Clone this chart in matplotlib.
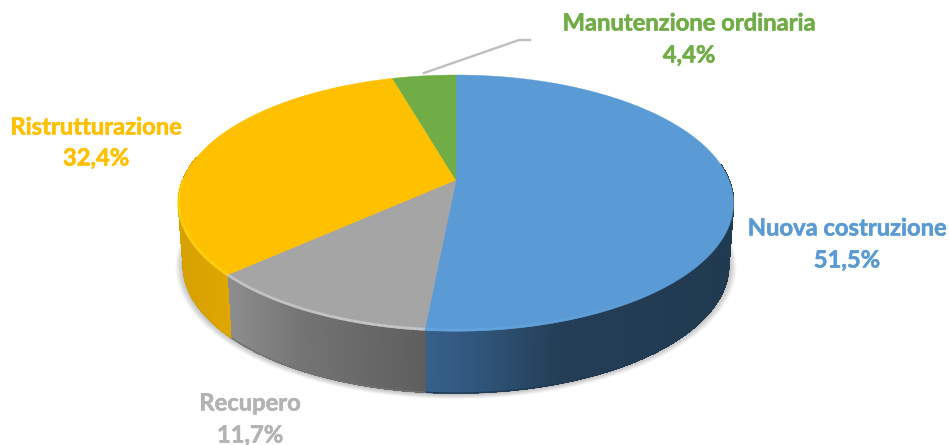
import numpy as np
import matplotlib
matplotlib.use("Agg")
import matplotlib.pyplot as plt
import matplotlib.patheffects as pe
from matplotlib.collections import PolyCollection, LineCollection
from matplotlib.colors import to_rgb

categories = ["Nuova costruzione", "Recupero", "Ristrutturazione", "Manutenzione ordinaria"]
values = [51.5, 11.7, 32.4, 4.4]
colors = ["#5b9bd5", "#a5a5a5", "#ffc000", "#70ad47"]
label_colors = ["#5b9bd5", "#b3b3b3", "#ffc000", "#70ad47"]
rim_colors = ["#66a8e0", "#d4d4d4", "#ffd91a", "#70ad47"]
side_x = [[425, 480, 560, 740], [225, 300, 425], [175, 232], [390, 460]]
side_colors = [["#36608a", "#30557a", "#233e56", "#203a50"],
               ["#8e8e8e", "#747474", "#5e5e5e"],
               ["#d6a000", "#e0a800"],
               ["#70ad47", "#70ad47"]]
label_x = [847, 250, 96, 689]
label_y = [[228, 260], [403, 435], [127, 158], [23, 55]]

# projection of the pie disc
CX, A, B, C, K = 456, 273, -91.5, 180, 0.18
DEPTH, SHRINK = 62, 0.983
FRONT_A, FRONT_B = 0.46 * np.pi, 1.56 * np.pi


def project(theta):
    u, v = np.sin(theta), np.cos(theta)
    d = 1 + K * v
    return CX + A * u / d, (B * v + C) / d


def lower(x, y):
    return CX + (x - CX) * SHRINK, y + DEPTH


fig = plt.figure(figsize=(9.49, 4.45), dpi=100)
ax = fig.add_axes([0, 0, 1, 1])
ax.set_xlim(0, 949)
ax.set_ylim(445, 0)
ax.axis("off")

edges = np.deg2rad(np.concatenate([[0], np.cumsum(values)]) * 3.6)

# soft shadow
t = np.linspace(0, 2 * np.pi, 400)
x, y = lower(*project(t))
for i in range(14):
    s = 1 + 0.0022 * i
    ax.fill(CX + (x - CX) * s, 203 + (y - 203) * (s + 0.003), color="k", alpha=0.018, lw=0, zorder=1)

# sides
for i in range(len(values)):
    a = max(edges[i], FRONT_A)
    b = min(edges[i + 1], FRONT_B)
    if b <= a:
        continue
    t = np.linspace(a, b, 260)
    xt, yt = project(t)
    xb, yb = lower(xt, yt)
    polys, cols = [], []
    stops = np.array([to_rgb(c) for c in side_colors[i]])
    for j in range(len(t) - 1):
        polys.append([(xt[j], yt[j]), (xt[j + 1], yt[j + 1]), (xb[j + 1], yb[j + 1]), (xb[j], yb[j])])
        xm = (xt[j] + xt[j + 1]) / 2
        cols.append([np.interp(xm, side_x[i], stops[:, k]) for k in range(3)])
    ax.add_collection(PolyCollection(polys, facecolors=cols, edgecolors=cols, linewidths=0.5,
                                     antialiaseds=False, zorder=2))
    ax.plot(xb, yb, color=cols[len(cols) // 2], lw=1.0, zorder=2.4)

# top faces
for i in range(len(values)):
    t = np.linspace(edges[i], edges[i + 1], 300)
    xt, yt = project(t)
    ax.fill(np.r_[CX, xt], np.r_[C, yt], color=colors[i], lw=0.3, zorder=3)

# bevel highlight along the front rim, fading out to the right
fade_from, fade_to = np.deg2rad(125), np.deg2rad(180)
for i in range(len(values)):
    a = max(edges[i], np.pi * 0.5)
    b = min(edges[i + 1], 1.5 * np.pi)
    if b <= a:
        continue
    t = np.linspace(a, b, 200)
    xt, yt = project(t)
    pts = np.column_stack([xt, yt - 1])
    segs = np.stack([pts[:-1], pts[1:]], axis=1)
    alpha = np.clip((t[:-1] - fade_from) / (fade_to - fade_from), 0, 1) * 0.75
    rgba = [(*to_rgb(rim_colors[i]), al) for al in alpha]
    ax.add_collection(LineCollection(segs, colors=rgba, linewidths=2.0, zorder=4, capstyle="butt"))

# leader line
leader_x = [424, 519, 530]
leader_y = [73, 40, 40]
ax.plot(leader_x, leader_y, color="#bfbfbf", lw=1.7, zorder=2)

# labels
for name, v, lx, ly, c in zip(categories, values, label_x, label_y, label_colors):
    halo = [pe.withStroke(linewidth=0.4, foreground=c)]
    ax.text(lx, ly[0], name, ha="center", va="center", color=c, fontsize=17.1, fontweight="bold",
            family="Lato", path_effects=halo)
    ax.text(lx, ly[1], f"{v:.1f}%".replace(".", ","), ha="center", va="center", color=c,
            fontsize=17.1, fontweight="bold", family="Lato", path_effects=halo)

fig.savefig("out.png", dpi=100, facecolor="white")
